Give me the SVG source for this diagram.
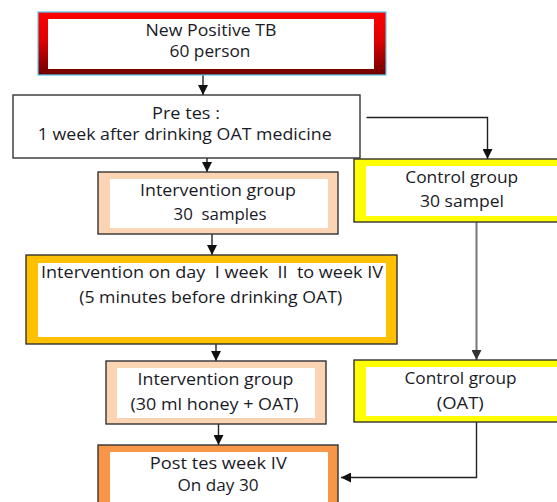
<svg xmlns="http://www.w3.org/2000/svg" width="557" height="502" viewBox="0 0 557 502">
<defs>
<linearGradient id="redGrad" x1="0" y1="0" x2="0" y2="1">
<stop offset="0" stop-color="#ff0000"/>
<stop offset="0.45" stop-color="#e00000"/>
<stop offset="1" stop-color="#6e0000"/>
</linearGradient>
<marker id="arr" viewBox="0 0 10 10" refX="10" refY="5" markerWidth="10" markerHeight="10" markerUnits="userSpaceOnUse" orient="auto">
<path d="M0,0 L10,5 L0,10 Z" fill="#111"/>
</marker>
<marker id="arrG" viewBox="0 0 10 10" refX="10" refY="5" markerWidth="10" markerHeight="10" markerUnits="userSpaceOnUse" orient="auto">
<path d="M0,0 L10,5 L0,10 Z" fill="#333"/>
</marker>
</defs>
<style>
text{font-family:"Open Sans","Liberation Sans",sans-serif;font-size:15.5px;fill:#1a1a26;text-anchor:middle}
.edge{stroke:#222;stroke-width:1.4;fill:none}
.gray{stroke:#777;stroke-width:2;fill:none}
.box{stroke:#333;stroke-width:1.4}
.inner{fill:#fff;stroke:none}
</style>
<g id="connectors">
<path class="edge" d="M203,75 V95" marker-end="url(#arr)"/>
<path class="edge" d="M207,150 V172" marker-end="url(#arr)"/>
<path class="edge" d="M366.5,117.5 H487.5 V159" marker-end="url(#arr)"/>
<path class="edge" d="M212,232 V255" marker-end="url(#arr)"/>
<path class="edge" d="M216,338 V361" marker-end="url(#arr)"/>
<path class="edge" d="M218.5,424 V445" marker-end="url(#arr)"/>
<path class="gray" d="M476.5,222 V360" marker-end="url(#arrG)"/>
<path class="edge" d="M476.5,422 V477.5 H341" marker-end="url(#arr)"/>
</g>
<g id="new-positive-tb">
<rect x="38" y="12" width="348" height="63" fill="url(#redGrad)" stroke="#5cc8f0" stroke-width="1.2"/>
<rect class="inner" x="48" y="19" width="326" height="50"/>
<text x="211" y="36" textLength="131" lengthAdjust="spacingAndGlyphs">New Positive TB</text>
<text x="210" y="57" textLength="81" lengthAdjust="spacingAndGlyphs">60 person</text>
</g>
<g id="pre-test">
<rect class="box" x="13" y="95" width="347" height="63" fill="#fff"/>
<text x="186" y="119" textLength="68" lengthAdjust="spacingAndGlyphs">Pre tes :</text>
<text x="184.7" y="140" textLength="294" lengthAdjust="spacingAndGlyphs">1 week after drinking OAT medicine</text>
</g>
<g id="control-group-1">
<rect class="box" x="354" y="159" width="215" height="63" fill="#ffff00"/>
<rect class="inner" x="366" y="166" width="200" height="50"/>
<text x="461.7" y="182.5" textLength="113" lengthAdjust="spacingAndGlyphs">Control group</text>
<text x="462" y="207.3" textLength="84" lengthAdjust="spacingAndGlyphs">30 sampel</text>
</g>
<g id="intervention-group-1">
<rect class="box" x="98" y="172" width="240" height="62" fill="#fbd4b4"/>
<rect class="inner" x="110" y="179" width="218" height="49"/>
<text x="218" y="195.5" textLength="156" lengthAdjust="spacingAndGlyphs">Intervention group</text>
<text x="220" y="220" textLength="93" lengthAdjust="spacingAndGlyphs" xml:space="preserve">30  samples</text>
</g>
<g id="intervention-schedule">
<rect class="box" x="26" y="255" width="371" height="89" fill="#ffc000"/>
<rect class="inner" x="38" y="263" width="348" height="74"/>
<text x="212" y="278.3" textLength="342" lengthAdjust="spacingAndGlyphs" xml:space="preserve">Intervention on day  I week  II  to week IV</text>
<text x="210.7" y="303.3" textLength="263" lengthAdjust="spacingAndGlyphs">(5 minutes before drinking OAT)</text>
</g>
<g id="intervention-group-2">
<rect class="box" x="106" y="361" width="220" height="63" fill="#fbd4b4"/>
<rect class="inner" x="117" y="368" width="198" height="50"/>
<text x="215.5" y="385" textLength="156" lengthAdjust="spacingAndGlyphs">Intervention group</text>
<text x="214.5" y="410" textLength="168" lengthAdjust="spacingAndGlyphs">(30 ml honey + OAT)</text>
</g>
<g id="control-group-2">
<rect class="box" x="354" y="360" width="215" height="62" fill="#ffff00"/>
<rect class="inner" x="366" y="367" width="200" height="49"/>
<text x="460.5" y="384" textLength="112" lengthAdjust="spacingAndGlyphs">Control group</text>
<text x="460.3" y="409" textLength="47" lengthAdjust="spacingAndGlyphs">(OAT)</text>
</g>
<g id="post-test">
<rect class="box" x="98" y="445" width="240" height="70" fill="#f79646"/>
<rect class="inner" x="110" y="452" width="218" height="60"/>
<text x="218.3" y="469.3" textLength="137" lengthAdjust="spacingAndGlyphs">Post tes week IV</text>
<text x="218" y="490.7" textLength="81" lengthAdjust="spacingAndGlyphs">On day 30</text>
</g>
</svg>
